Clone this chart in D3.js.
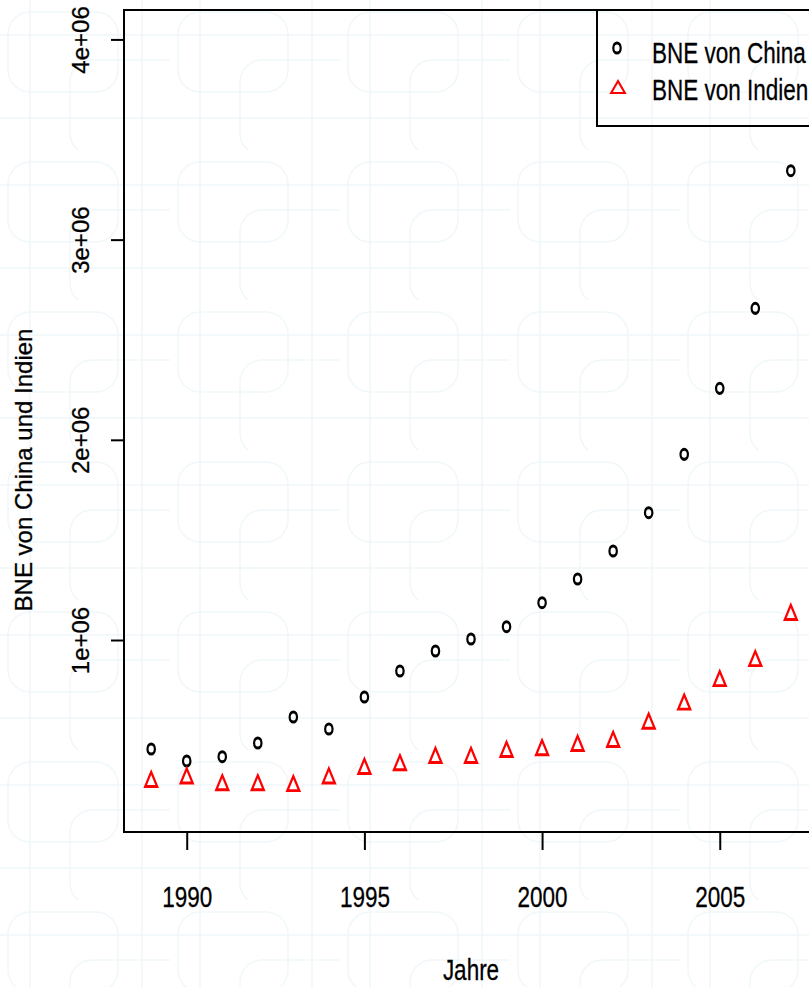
<!DOCTYPE html>
<html>
<head>
<meta charset="utf-8">
<script src="https://cdn.jsdelivr.net/npm/d3@7"></script>
<style>
  html, body { margin: 0; padding: 0; background: #ffffff; }
  svg { display: block; }
</style>
</head>
<body>
<script>
// ---- data ----
const years = [1989,1990,1991,1992,1993,1994,1995,1996,1997,1998,1999,2000,2001,2002,2003,2004,2005,2006,2007];
const chinaGNI = [455500,395600,417100,485500,615400,555400,715300,845200,945100,1005000,1066400,1186300,1304700,1444600,1635900,1927600,2257200,2656900,3344200];
const indiaGNI = [292700,309700,275700,275700,271700,309700,357100,375600,412600,412600,442600,451000,472500,492500,583400,678800,796200,896100,1126900];
const xTicks = [1990,1995,2000,2005];
const yTicks = [1000000,2000000,3000000,4000000];
const yTickLabels = ["1e+06","2e+06","3e+06","4e+06"];
const legendLabels = ["BNE von China","BNE von Indien"];
const xTitle = "Jahre";
const yTitle = "BNE von China und Indien";

// ---- layout ----
const W = 809, H = 987;
const plot = {left: 124, right: 818, top: 10, bottom: 832};
const FONT = "'Liberation Sans', Arial, 'DejaVu Sans', sans-serif";
const SX = 0.75;   // horizontal squeeze of upright text in the reference

const svg = d3.select("body").append("svg")
  .attr("width", W).attr("height", H);

// faint decorative background pattern
const defs = svg.append("defs");
const pat = defs.append("pattern").attr("id","bg").attr("patternUnits","userSpaceOnUse")
  .attr("width", 170).attr("height", 150);
const pg = pat.append("g").attr("fill","none").attr("stroke","#d3e8f0").attr("stroke-width",1.5).attr("opacity",0.35);
pg.append("rect").attr("x",8).attr("y",12).attr("width",110).attr("height",80).attr("rx",22);
pg.append("rect").attr("x",70).attr("y",60).attr("width",120).attr("height",95).attr("rx",22);
pg.append("line").attr("x1",0).attr("x2",170).attr("y1",35).attr("y2",35);
pg.append("line").attr("x1",0).attr("x2",170).attr("y1",118).attr("y2",118);
pg.append("line").attr("x1",30).attr("x2",30).attr("y1",0).attr("y2",150);
pg.append("line").attr("x1",142).attr("x2",142).attr("y1",0).attr("y2",150);
svg.append("rect").attr("width",W).attr("height",H).attr("fill","#ffffff");
svg.append("rect").attr("width",W).attr("height",H).attr("fill","url(#bg)");

// ---- scales ----
const x = d3.scaleLinear().domain([1988.235, 2007.765]).range([plot.left, plot.right]);
const y = d3.scaleLinear().domain([41000, 4147000]).range([plot.bottom, plot.top]);

// ---- axes ----
const xAxis = svg.append("g").attr("transform", `translate(0,${plot.bottom})`)
  .call(d3.axisBottom(x).tickValues(xTicks).tickSize(18).tickFormat(d3.format("d")));
xAxis.select(".domain").remove();
xAxis.selectAll(".tick line").attr("stroke","#000").attr("stroke-width",2);
xAxis.selectAll(".tick text")
  .attr("y", null).attr("dy", null)
  .attr("transform", `translate(0,75) scale(${SX},1)`)
  .attr("font-family", FONT).attr("font-size", 30).attr("fill","#000")
  .attr("stroke","#000").attr("stroke-width",0.3);

const yAxis = svg.append("g").attr("transform", `translate(${plot.left},0)`)
  .call(d3.axisLeft(y).tickValues(yTicks).tickSize(13).tickFormat((d,i) => yTickLabels[i]));
yAxis.select(".domain").remove();
yAxis.selectAll(".tick line").attr("stroke","#000").attr("stroke-width",2);
yAxis.selectAll(".tick text")
  .attr("x", null).attr("dy", null)
  .attr("text-anchor","middle")
  .attr("transform", "translate(-35,0) rotate(-90)")
  .attr("font-family", FONT).attr("font-size", 24).attr("fill","#000")
  .attr("stroke","#000").attr("stroke-width",0.3);

// ---- box ----
svg.append("rect")
  .attr("x", plot.left).attr("y", plot.top)
  .attr("width", plot.right - plot.left).attr("height", plot.bottom - plot.top)
  .attr("fill","none").attr("stroke","#000").attr("stroke-width",2);

// ---- titles ----
svg.append("text")
  .attr("transform", `translate(${(plot.left+plot.right)/2},980) scale(${SX},1)`)
  .attr("text-anchor","middle").attr("font-family", FONT).attr("font-size", 30)
  .attr("stroke","#000").attr("stroke-width",0.3)
  .text(xTitle);
svg.append("text")
  .attr("transform", `translate(32,470) rotate(-90)`)
  .attr("text-anchor","middle").attr("font-family", FONT).attr("font-size", 24)
  .attr("stroke","#000").attr("stroke-width",0.3)
  .text(yTitle);

// ---- markers ----
const triR = 6.9, triXC = triR * Math.sqrt(3) / 2;
const triPath = `M0,${-triR}L${triXC},${triR/2}L${-triXC},${triR/2}Z`;
const SY = 1.37;

const chinaPts = years.map((yr,i) => ({yr, v: chinaGNI[i]}));
const indiaPts = years.map((yr,i) => ({yr, v: indiaGNI[i]}));

svg.append("g").selectAll("g").data(chinaPts).join("g")
  .attr("transform", d => `translate(${x(d.yr)},${y(d.v)}) scale(1,${SY})`)
  .append("circle").attr("r", 3.7)
  .attr("fill","none").attr("stroke","#000").attr("stroke-width",2.2);

svg.append("g").selectAll("g").data(indiaPts).join("g")
  .attr("transform", d => `translate(${x(d.yr)},${y(d.v)}) scale(1,1.4)`)
  .append("path").attr("d", triPath)
  .attr("fill","none").attr("stroke","#ff0000").attr("stroke-width",2.1);

// ---- legend ----
const leg = svg.append("g");
leg.append("rect")
  .attr("x", 597).attr("y", plot.top)
  .attr("width", plot.right - 597).attr("height", 126 - plot.top)
  .attr("fill","#ffffff").attr("fill-opacity",0).attr("stroke","#000").attr("stroke-width",2);
leg.append("g").attr("transform", `translate(617,48) scale(1,${SY})`)
  .append("circle").attr("r",3.7).attr("fill","none").attr("stroke","#000").attr("stroke-width",2.2);
leg.append("g").attr("transform", `translate(618,89) scale(1.15,1.15)`)
  .append("path").attr("d", triPath).attr("fill","none").attr("stroke","#ff0000").attr("stroke-width",1.8);
legendLabels.forEach((lab, i) => {
  leg.append("text")
    .attr("transform", `translate(652,${63 + i*37}) scale(${SX},1)`)
    .attr("font-family", FONT).attr("font-size", 30).attr("fill","#000")
    .attr("stroke","#000").attr("stroke-width",0.3)
    .text(lab);
});
</script>
</body>
</html>
